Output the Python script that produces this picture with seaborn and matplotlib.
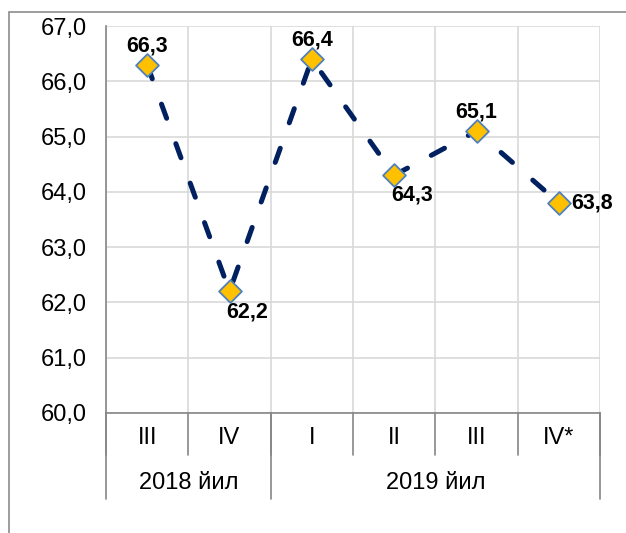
import numpy as np
import pandas as pd
import matplotlib
matplotlib.use('Agg')
import matplotlib.pyplot as plt
import matplotlib.transforms as mtransforms
from matplotlib.patches import Rectangle
import seaborn as sns

# data
quarters = ['III', 'IV', 'I', 'II', 'III', 'IV*']
years = ['2018 йил', '2019 йил']
year_span = [2, 4]
values = [66.3, 62.2, 66.4, 64.3, 65.1, 63.8]
label_pos = ['above', 'below', 'above', 'below', 'above', 'right']

sns.set_style('white')
plt.rcParams['font.family'] = ['Liberation Sans', 'DejaVu Sans']
plt.rcParams['text.color'] = 'black'
plt.rcParams['ytick.labelcolor'] = 'black'

df = pd.DataFrame({'x': np.arange(len(values)), 'value': values})

fig = plt.figure(figsize=(6.26, 5.33), dpi=100)
ax = fig.add_axes([106 / 626, 1 - 413 / 533, 494 / 626, 387 / 533])

# outer frame of the chart
fig.patches.append(Rectangle((9 / 626, -0.1), 1.2, 1 - 12 / 533 + 0.1,
                             transform=fig.transFigure, fill=False,
                             edgecolor='#8c8c8c', lw=1.2, clip_on=False))

grid_c = '#d9d9d9'
axis_c = '#868686'
axis_fs = 17

sns.lineplot(data=df, x='x', y='value', ax=ax, color='#002060', lw=3.6,
             linestyle=(0, (3, 5.4)), dash_capstyle='round', zorder=3)
sns.scatterplot(data=df, x='x', y='value', ax=ax, marker='D', s=135,
                color='#ffc000', edgecolor='#4f81bd', linewidth=1.3, zorder=4)

ax.set_xlim(-0.5, len(values) - 0.5)
ax.set_ylim(60, 67)
ax.set_yticks(np.arange(60, 68, 1))
ax.set_yticklabels([f'{v:.1f}'.replace('.', ',') for v in np.arange(60, 68, 1)])
ax.set_xticks(np.arange(-0.5, len(values), 1))
ax.set_xticklabels([])
ax.grid(True, color=grid_c, lw=1.2)
ax.set_axisbelow(True)
ax.set_xlabel('')
ax.set_ylabel('')
for s in ['top', 'right']:
    ax.spines[s].set_visible(False)
for s in ['left', 'bottom']:
    ax.spines[s].set_color(axis_c)
    ax.spines[s].set_linewidth(1.2)
ax.tick_params(axis='y', length=5, color=axis_c, width=1.2, pad=9, labelsize=axis_fs)
ax.tick_params(axis='x', length=0)

trans = mtransforms.blended_transform_factory(ax.transData, ax.transAxes)
# quarter separators and labels
for b in np.arange(-0.5, len(values), 1):
    ax.plot([b, b], [0, -42 / 387], transform=trans, color=axis_c, lw=1.2, clip_on=False)
for i, q in enumerate(quarters):
    ax.text(i, -25 / 387, q, transform=trans, ha='center', va='center', fontsize=axis_fs)
# year separators and labels
start = -0.5
ax.plot([start, start], [0, -86 / 387], transform=trans, color=axis_c, lw=1.2, clip_on=False)
for y, n in zip(years, year_span):
    end = start + n
    ax.plot([end, end], [0, -86 / 387], transform=trans, color=axis_c, lw=1.2, clip_on=False)
    ax.text((start + end) / 2, -70 / 387, y, transform=trans, ha='center', va='center', fontsize=axis_fs)
    start = end

# data labels
for i, (v, p) in enumerate(zip(values, label_pos)):
    txt = f'{v:.1f}'.replace('.', ',')
    if p == 'above':
        ax.annotate(txt, (i, v), xytext=(0, 6), textcoords='offset points',
                    ha='center', va='bottom', fontsize=15.5, fontweight='bold')
    elif p == 'below':
        ax.annotate(txt, (i, v), xytext=(-2, -7), textcoords='offset points',
                    ha='left', va='top', fontsize=15.5, fontweight='bold')
    else:
        ax.annotate(txt, (i, v), xytext=(9, 0), textcoords='offset points',
                    ha='left', va='center', fontsize=15.5, fontweight='bold')

fig.savefig('out.png', dpi=100)
